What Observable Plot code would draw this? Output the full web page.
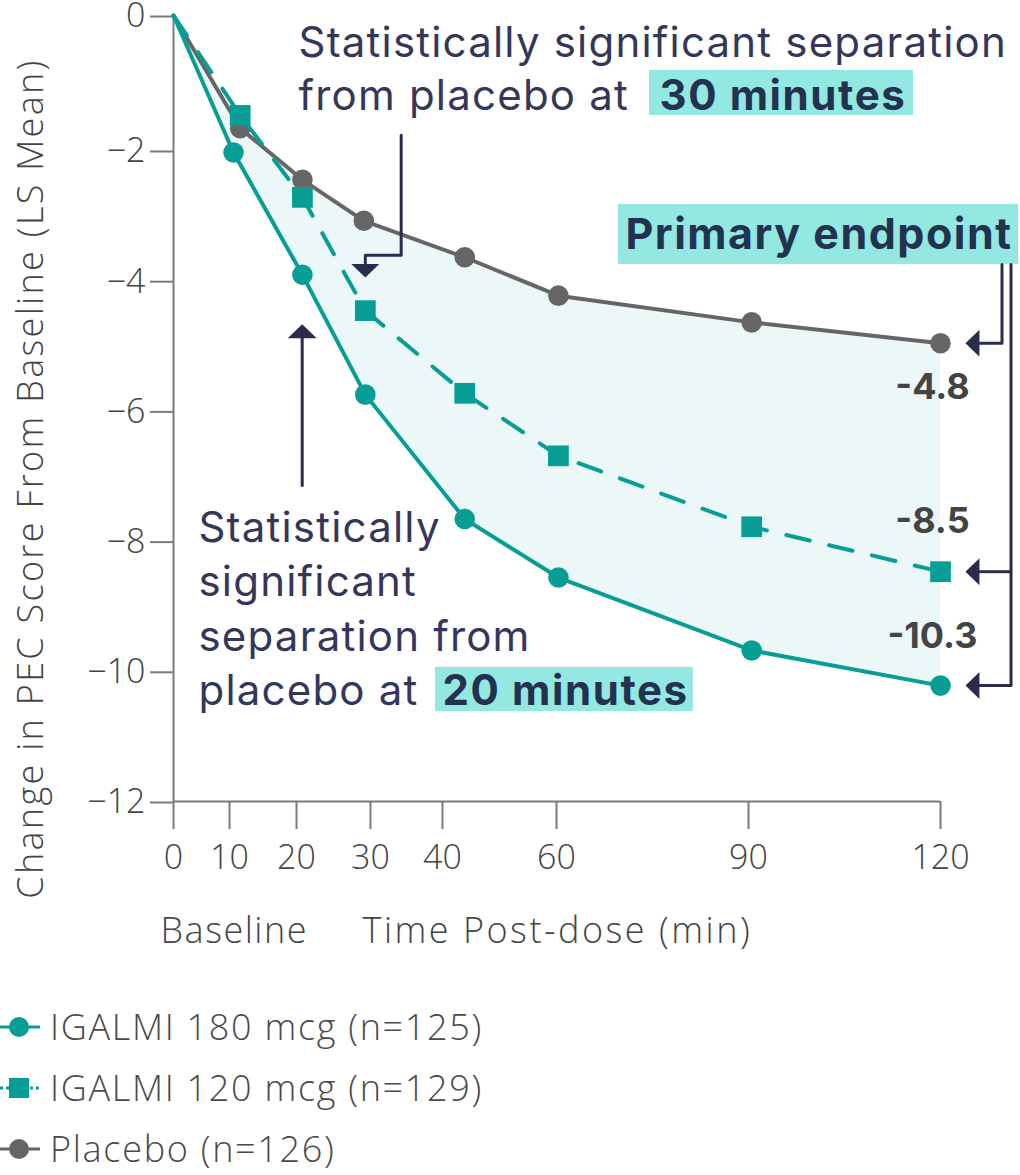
<!DOCTYPE html>
<html>
<head>
<meta charset="utf-8">
<script src="https://cdn.jsdelivr.net/npm/d3@7"></script>
<script src="https://cdn.jsdelivr.net/npm/@observablehq/plot@0.6"></script>
<style>
  body { margin: 0; background: #fff; }
  #chart svg { display: block; }
  #legend { padding-top: 19px; font-family: "Open Sans", sans-serif; font-weight: 300; font-size: 36px; letter-spacing: 1.7px; color: #4a4a4a; }
  .row { height: 61px; display: flex; align-items: center; }
  .row svg { width: 46px; height: 40px; flex: none; margin-right: 4px; }
</style>
</head>
<body>
<div id="chart"></div>
<div id="legend"></div>
<script>
// ---- data ----
const xTicks = [0, 10, 20, 30, 40, 60, 90, 120];
const yTicks = [0, -2, -4, -6, -8, -10, -12];

const t180 = [0, 10.6, 20.8, 29.3, 43.9, 60.3, 90.5, 120];
const v180 = [0, -2.03, -3.91, -5.75, -7.66, -8.56, -9.68, -10.22];

const t120 = [0, 11.6, 20.8, 29.3, 43.9, 60.3, 90.5, 120];
const v120 = [0, -1.48, -2.72, -4.46, -5.73, -6.69, -7.78, -8.47];

const tPbo = [0, 11.6, 20.8, 29.1, 43.9, 60.3, 90.5, 120];
const vPbo = [0, -1.67, -2.45, -3.08, -3.64, -4.23, -4.64, -4.96];

const seriesNames = ["IGALMI 180 mcg (n=125)", "IGALMI 120 mcg (n=129)", "Placebo (n=126)"];
const endLabels = ["-10.3", "-8.5", "-4.8"];

const yTitle = "Change in PEC Score From Baseline (LS Mean)";
const xTitleLeft = "Baseline";
const xTitle = "Time Post-dose (min)";
const note30 = "Statistically significant separation\nfrom placebo at";
const note30b = "30 minutes";
const note20 = "Statistically\nsignificant\nseparation from\nplacebo at";
const note20b = "20 minutes";
const primary = "Primary endpoint";

// ---- styles ----
const TEAL = "#089e96";
const GREY = "#666666";
const NAVY = "#2a2c4c";
const NOTE = "#35375a";
const BOLD = "#22324f";
const HILITE = "#93e8e2";
const FILL = "#ecf7f7";
const AXIS = "#7a7a7a";
const ANN_FONT = "Inter, 'Open Sans', sans-serif";
const AX_FONT = "'Open Sans', sans-serif";

// letter spacing per text (px), applied after rendering
const spacing = new Map([
  [note30, 1.2], [note20, 1.2], [note30b, 1.6], [note20b, 1.6], [primary, 1.5],
  [yTitle, 2.3], [xTitleLeft, 1.5], [xTitle, 2.5]
].map(([k, v]) => [k.replace(/\n/g, ""), v]));

const zip = (t, v) => t.map((x, i) => ({x, y: v[i]}));
const s180 = zip(t180, v180);
const s120 = zip(t120, v120);
const sPbo = zip(tPbo, vPbo);
const band = t180.map((x, i) => ({x1: x, y1: v180[i], x2: tPbo[i], y2: vPbo[i]}));

const headLeft = {draw(c) { c.moveTo(0, 0); c.lineTo(14, -13.5); c.lineTo(14, 13.5); c.closePath(); }};
const headDown = {draw(c) { c.moveTo(0, 0); c.lineTo(-14, -13.5); c.lineTo(14, -13.5); c.closePath(); }};
const headUp   = {draw(c) { c.moveTo(0, 0); c.lineTo(-14.5, 14); c.lineTo(14.5, 14); c.closePath(); }};

const last = a => a[a.length - 1];
const endY = [last(v180), last(v120), last(vPbo)];
const endLabel = (i, dy) => Plot.text([endLabels[i]], {x: 120, y: endY[i], dx: -8, dy, textAnchor: "middle",
  lineAnchor: "bottom", fontSize: 36, fontWeight: 700, fill: "#444", fontFamily: ANN_FONT});

const chart = Plot.plot({
  width: 1020,
  height: 977,
  marginLeft: 173,
  marginRight: 80,
  marginTop: 15,
  marginBottom: 176,
  x: {type: "linear", domain: xTicks, range: [173, 229, 296, 370, 442, 556, 748, 940]},
  y: {type: "linear", domain: [-12, -2, 0], range: [801, 150, 15]},
  style: {fontFamily: AX_FONT, fontSize: "34px", color: "#444", background: "#fff", overflow: "visible"},
  marks: [
    Plot.area(band, {x1: "x1", y1: "y1", x2: "x2", y2: "y2", fill: FILL}),
    // axes
    Plot.ruleX([0], {y1: -12, y2: 0, stroke: AXIS, strokeWidth: 2}),
    Plot.ruleY([-12], {x1: 0, x2: 120, stroke: AXIS, strokeWidth: 2}),
    Plot.axisY({ticks: yTicks, tickSize: 23, tickPadding: 5, stroke: AXIS, strokeWidth: 2, fill: "#444",
      fontSize: 34, fontWeight: 300, label: null, dy: 1}),
    Plot.axisX({ticks: xTicks, tickSize: 28, tickPadding: 15, stroke: AXIS, strokeWidth: 2, fill: "#444",
      fontSize: 34, fontWeight: 300, label: null}),
    Plot.text([yTitle], {frameAnchor: "left", rotate: -90, dx: -142, dy: 70, fontSize: 36,
      fontWeight: 300, fill: "#444", textAnchor: "middle", lineAnchor: "middle"}),
    Plot.text([xTitleLeft], {frameAnchor: "bottom-left", dx: -13, dy: 141, fontSize: 36,
      fontWeight: 300, fill: "#444", textAnchor: "start", lineAnchor: "bottom"}),
    Plot.text([xTitle], {frameAnchor: "bottom-left", dx: 189, dy: 141, fontSize: 36,
      fontWeight: 300, fill: "#444", textAnchor: "start", lineAnchor: "bottom"}),
    // series
    Plot.line(sPbo, {x: "x", y: "y", stroke: GREY, strokeWidth: 4}),
    Plot.dot(sPbo.slice(1), {x: "x", y: "y", r: 10.3, fill: GREY, stroke: "none"}),
    Plot.line(s120, {x: "x", y: "y", stroke: TEAL, strokeWidth: 4, strokeDasharray: "24,20"}),
    Plot.dot(s120.slice(1), {x: "x", y: "y", r: 11.7, symbol: "square", fill: TEAL, stroke: "none"}),
    Plot.line(s180, {x: "x", y: "y", stroke: TEAL, strokeWidth: 4}),
    Plot.dot(s180.slice(1), {x: "x", y: "y", r: 10.3, fill: TEAL, stroke: "none"}),
    // end labels
    endLabel(0, -38),
    endLabel(1, -39),
    endLabel(2, 56),
    // annotation: 30 minutes
    Plot.rect([0], {x1: 74.53, x2: 115.78, y1: -0.815, y2: -1.481, fill: HILITE}),
    Plot.text([note30], {x: 20.27, y: -1.407, textAnchor: "start", lineAnchor: "bottom",
      lineHeight: 1.262, fontSize: 42, fill: NOTE, fontFamily: ANN_FONT}),
    Plot.text([note30b], {x: 76.09, y: -1.407, textAnchor: "start", lineAnchor: "bottom",
      fontSize: 42, fontWeight: 700, fill: BOLD, fontFamily: ANN_FONT}),
    Plot.line([[34.26, -1.773], [34.26, -3.608], [29.3, -3.608], [29.3, -3.75]], {stroke: NAVY, strokeWidth: 3}),
    Plot.dot([[29.3, -3.951]], {symbol: headDown, fill: NAVY, stroke: "none"}),
    // annotation: 20 minutes
    Plot.rect([0], {x1: 39.03, x2: 81.38, y1: -9.94, y2: -10.62, fill: HILITE}),
    Plot.text([note20], {x: 4.46, y: -10.51, textAnchor: "start", lineAnchor: "bottom",
      lineHeight: 1.286, fontSize: 42, fill: NOTE, fontFamily: ANN_FONT}),
    Plot.text([note20b], {x: 40.0, y: -10.51, textAnchor: "start", lineAnchor: "bottom",
      fontSize: 42, fontWeight: 700, fill: BOLD, fontFamily: ANN_FONT}),
    Plot.line([[20.77, -7.146], [20.77, -4.873]], {stroke: NAVY, strokeWidth: 3}),
    Plot.dot([[20.77, -4.668]], {symbol: headUp, fill: NAVY, stroke: "none"}),
    // primary endpoint
    Plot.rect([0], {x1: 69.69, x2: 132.19, y1: -2.83, y2: -3.75, fill: HILITE}),
    Plot.text([primary], {x: 70.78, y: -3.516, textAnchor: "start", lineAnchor: "bottom",
      fontSize: 43, fontWeight: 700, fill: BOLD, fontFamily: ANN_FONT}),
    Plot.line([[129.61, -3.75], [129.61, last(vPbo)], [126.1, last(vPbo)]], {stroke: NAVY, strokeWidth: 3}),
    Plot.line([[131.02, -3.75], [131.02, last(v180)], [126.1, last(v180)]], {stroke: NAVY, strokeWidth: 3}),
    Plot.ruleY([last(v120)], {x1: 126.1, x2: 131.02, stroke: NAVY, strokeWidth: 3}),
    Plot.dot(endY, {x: 123.9, y: d => d, symbol: headLeft, fill: NAVY, stroke: "none"})
  ]
});
chart.querySelectorAll("text").forEach(t => {
  const s = spacing.get(t.textContent);
  if (s !== undefined) t.style.letterSpacing = s + "px";
});
document.getElementById("chart").append(chart);

// ---- legend ----
const legend = document.getElementById("legend");
const swatches = [
  `<line x1="0" y1="20" x2="40" y2="20" stroke="${TEAL}" stroke-width="3"/><circle cx="19" cy="20" r="10" fill="${TEAL}"/>`,
  `<line x1="0" y1="20" x2="40" y2="20" stroke="${TEAL}" stroke-width="3" stroke-dasharray="3,3"/><rect x="9" y="10" width="20" height="20" fill="${TEAL}"/>`,
  `<line x1="0" y1="20" x2="40" y2="20" stroke="${GREY}" stroke-width="3"/><circle cx="19" cy="20" r="10" fill="${GREY}"/>`
];
seriesNames.forEach((name, i) => {
  const row = document.createElement("div");
  row.className = "row";
  row.innerHTML = `<svg viewBox="0 0 46 40">${swatches[i]}</svg><span>${name}</span>`;
  legend.append(row);
});
</script>
</body>
</html>
